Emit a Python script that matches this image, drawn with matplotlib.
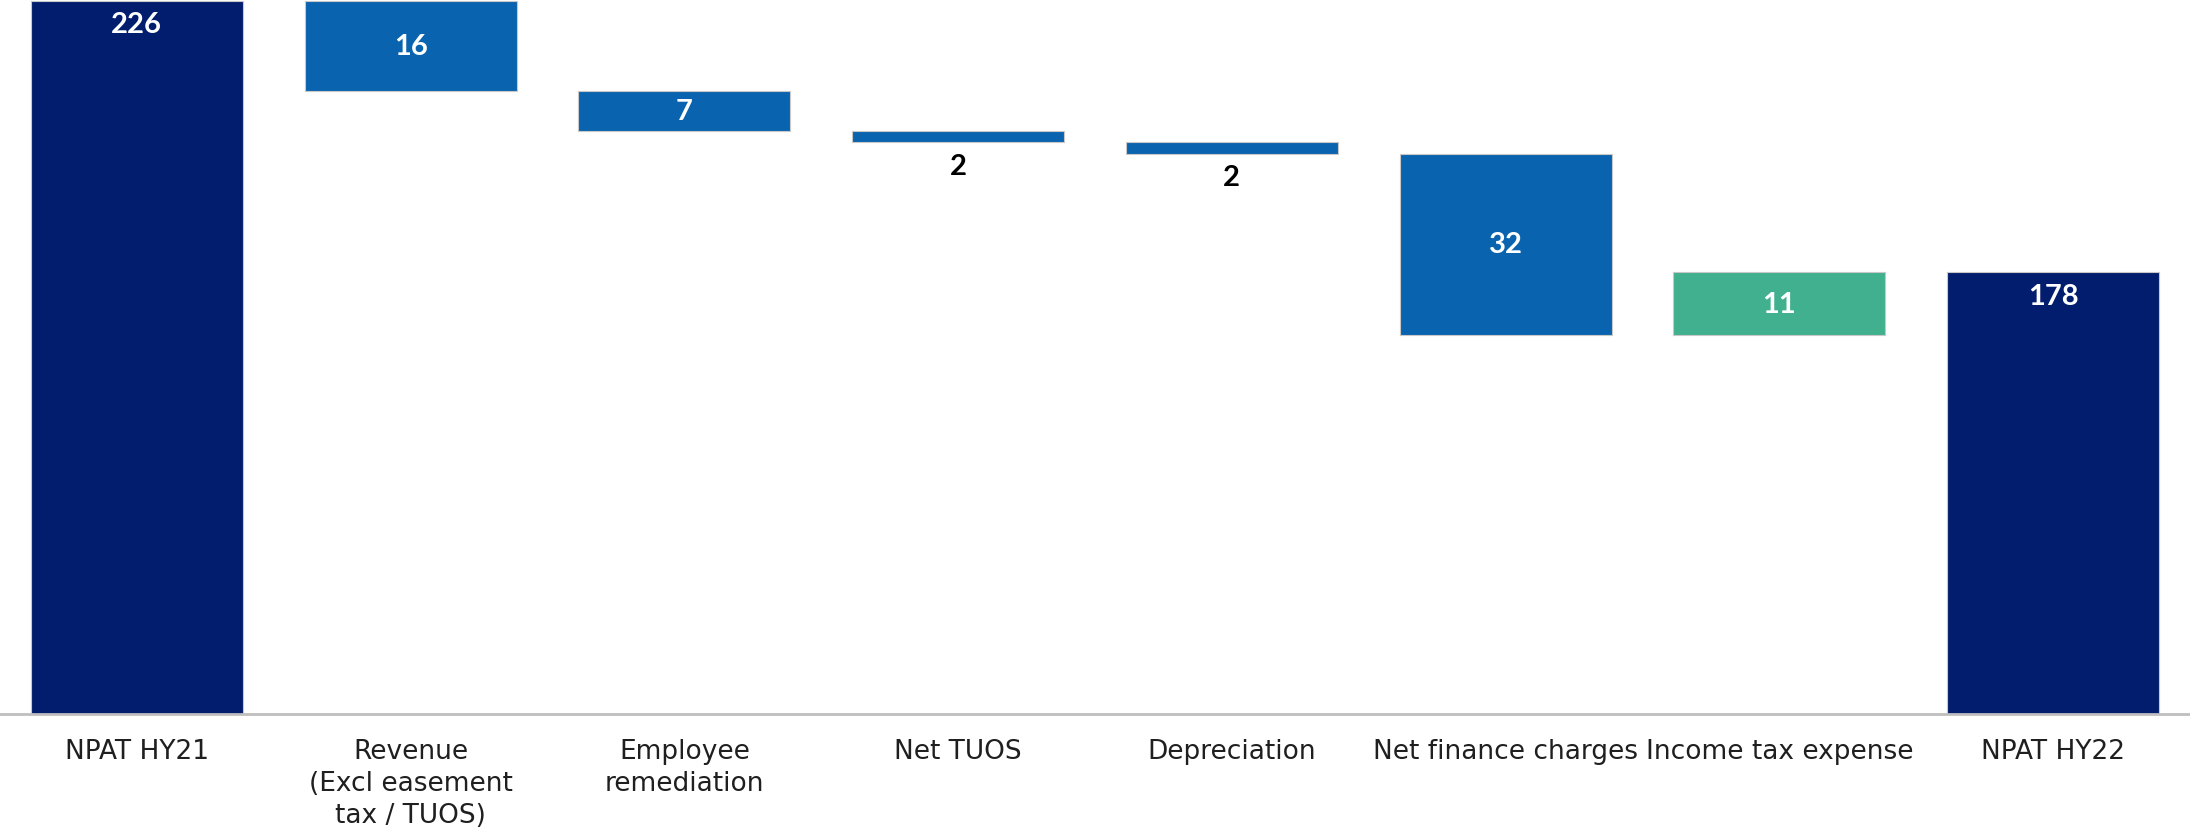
import matplotlib
matplotlib.use("Agg")
import matplotlib.pyplot as plt
import numpy as np

# --- data
categories = ["NPAT HY21", "Revenue\n(Excl easement\ntax / TUOS)", "Employee\nremediation",
              "Net TUOS", "Depreciation", "Net finance charges", "Income tax expense", "NPAT HY22"]
changes = [226, -16, -7, -2, -2, -32, 11, 178]
is_total = [True, False, False, False, False, False, False, True]
value_labels = ["226", "16", "7", "2", "2", "32", "11", "178"]

navy = "#031D6E"
blue = "#0963AF"
green = "#40B08E"

# --- waterfall geometry
bottoms, heights, colors = [], [], []
running = 0
for chg, total in zip(changes, is_total):
    if total:
        bottoms.append(0)
        heights.append(chg)
        colors.append(navy)
        running = chg
    elif chg < 0:
        bottoms.append(running + chg)
        heights.append(-chg)
        colors.append(blue)
        running += chg
    else:
        bottoms.append(running)
        heights.append(chg)
        colors.append(green)
        running += chg

plt.rcParams['font.family'] = ['Lato', 'DejaVu Sans']

fig = plt.figure(figsize=(21.9, 8.29), dpi=100)
ax = fig.add_axes([0, 114 / 829, 1, 715 / 829])

x = np.arange(len(categories))
ax.bar(x, heights, bottom=bottoms, width=0.775, color=colors,
       edgecolor="#c8c8c8", linewidth=0.8, zorder=2)

ax.set_xlim(-0.5, len(categories) - 0.5)
ax.set_ylim(100, 226.3)

# value labels
for i, lab in enumerate(value_labels):
    top = bottoms[i] + heights[i]
    if is_total[i]:
        ax.annotate(lab, (x[i], top), xytext=(0, -17), textcoords="offset points",
                    ha="center", va="center", color="white", fontsize=21, fontweight="bold")
    elif heights[i] < 5:
        ax.annotate(lab, (x[i], bottoms[i]), xytext=(0, -17), textcoords="offset points",
                    ha="center", va="center", color="black", fontsize=21, fontweight="bold")
    else:
        ax.text(x[i], bottoms[i] + heights[i] / 2, lab, ha="center", va="center",
                color="white", fontsize=21, fontweight="bold")

# axes styling
for side in ["top", "right", "left"]:
    ax.spines[side].set_visible(False)
ax.spines["bottom"].set_color("#bfbfbf")
ax.spines["bottom"].set_linewidth(2)
ax.spines["bottom"].set_zorder(3)
ax.set_yticks([])
ax.set_xticks(x)
ax.set_xticklabels(categories, fontsize=19, color="#1f1f1f", linespacing=1.32,
                   family="DejaVu Sans")
ax.tick_params(axis="x", length=0, pad=17)

fig.savefig("out.png", dpi=100)
